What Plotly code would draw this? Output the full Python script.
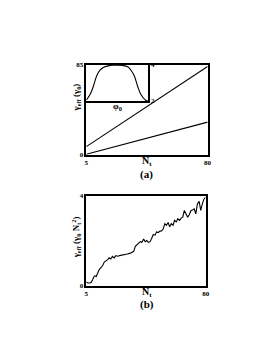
import plotly.graph_objects as go

# Panel (a): main lines
Nt_a = [5, 80]
gamma_upper = [7.7, 83.4]
gamma_lower = [0.5, 30.8]

# Panel (a) inset: gamma vs phi0 (normalized phi axis)
phi0 = [0.0, 0.063, 0.116, 0.169, 0.222, 0.275, 0.354, 0.434, 0.487, 0.593, 0.672, 0.725, 0.778, 0.831, 0.884, 0.963, 1.0]
gamma_inset = [2.04, 2.37, 2.83, 3.39, 3.70, 3.85, 3.94, 3.98, 3.98, 3.96, 3.89, 3.70, 3.39, 2.83, 2.37, 2.04, 2.0]

# Panel (b)
Nt_b = [5.0, 6.0, 7.1, 8.1, 9.1, 10.1, 11.2, 12.2, 13.2, 14.2, 15.3, 16.3, 17.3, 18.4, 19.4, 20.4,
        21.4, 22.5, 23.5, 24.5, 26.6, 28.6, 30.7, 32.7, 34.8, 35.8, 36.8, 37.9, 38.9, 39.9, 41.0,
        42.0, 43.0, 44.0, 45.1, 46.1, 47.1, 48.2, 49.2, 50.2, 51.2, 52.3, 53.3, 54.3, 55.3, 56.4,
        57.4, 58.4, 59.5, 60.5, 61.5, 62.5, 63.6, 64.6, 65.6, 66.6, 67.7, 68.7, 69.7, 70.8, 71.8,
        72.8, 73.8, 74.8, 75.9, 76.9, 77.9, 78.9, 80.0]
gamma_b = [0.17, 0.12, 0.12, 0.15, 0.29, 0.44, 0.41, 0.58, 0.73, 0.80, 0.90, 1.05, 1.09, 1.16, 1.24, 1.19,
           1.31, 1.24, 1.34, 1.31, 1.35, 1.37, 1.41, 1.45, 1.53, 1.75, 1.82, 1.85, 1.96, 1.93, 2.08,
           1.96, 2.01, 1.93, 1.96, 2.11, 2.28, 2.25, 2.40, 2.36, 2.43, 2.44, 2.52, 2.76, 2.69, 2.81,
           2.62, 2.76, 2.69, 2.91, 2.84, 2.98, 2.91, 3.01, 3.05, 3.35, 3.20, 3.05, 3.16, 3.35, 3.37,
           3.42, 3.20, 3.64, 3.75, 3.35, 3.64, 3.85, 3.93]

FONT = "Liberation Serif"
W, H = 277, 358

def px(x):
    return x / W

def py(y):
    return 1 - y / H

fig = go.Figure()
line = dict(color="black", width=1.1)
fig.add_trace(go.Scatter(x=Nt_a, y=gamma_upper, mode="lines", line=line, xaxis="x", yaxis="y", showlegend=False))
fig.add_trace(go.Scatter(x=Nt_a, y=gamma_lower, mode="lines", line=line, xaxis="x", yaxis="y", showlegend=False))
fig.add_trace(go.Scatter(x=phi0, y=gamma_inset, mode="lines", line=dict(color="black", width=1.1, shape="spline"),
                         xaxis="x3", yaxis="y3", showlegend=False))
fig.add_trace(go.Scatter(x=Nt_b, y=gamma_b, mode="lines", line=line, xaxis="x2", yaxis="y2", showlegend=False))

axis_common = dict(showline=True, linecolor="black", linewidth=1.5, mirror=True, showgrid=False,
                   zeroline=False, ticks="", tickfont=dict(family=FONT, size=7, color="black"))

fig.update_layout(
    width=W, height=H, margin=dict(l=0, r=0, t=0, b=0),
    paper_bgcolor="white", plot_bgcolor="white",
    font=dict(family=FONT, color="black"),
    xaxis=dict(domain=[px(78), px(202)], range=[5, 80], tickvals=[5, 80], ticktext=["<b>5</b>", "<b>80</b>"],
               anchor="y", **axis_common),
    yaxis=dict(domain=[py(146), py(54)], range=[0, 85], tickvals=[0, 85], ticktext=["<b>0</b>", "<b>85</b>"],
               anchor="x", **axis_common),
    xaxis2=dict(domain=[px(78), px(200)], range=[5, 80], tickvals=[5, 80], ticktext=["<b>5</b>", "<b>80</b>"],
                anchor="y2", **axis_common),
    yaxis2=dict(domain=[py(280), py(188)], range=[0, 4], tickvals=[0, 4], ticktext=["<b>0</b>", "<b>4</b>"],
                anchor="x2", **axis_common),
    xaxis3=dict(domain=[px(78), px(141)], range=[0, 1], showticklabels=False, anchor="y3",
                **{k: v for k, v in axis_common.items() if k != "tickfont"}),
    yaxis3=dict(domain=[py(91), py(54)], range=[2, 4], tickvals=[2, 4], ticktext=["<b>2</b>", "<b>4</b>"],
                side="right", anchor="x3", **axis_common),
)

ann = [
    dict(text="<b>N<sub>t</sub></b>", x=px(140), y=py(153), size=10),
    dict(text="<b>(a)</b>", x=px(140), y=py(166), size=11),
    dict(text="<b>φ<sub>0</sub></b>", x=px(110), y=py(97), size=9),
    dict(text="<b>N<sub>t</sub></b>", x=px(140), y=py(287), size=10),
    dict(text="<b>(b)</b>", x=px(140), y=py(299), size=11),
]
for a in ann:
    fig.add_annotation(text=a["text"], x=a["x"], y=a["y"], xref="paper", yref="paper", showarrow=False,
                       font=dict(family=FONT, size=a["size"], color="black"), xanchor="center", yanchor="middle")

fig.add_annotation(text="<b>γ<sub>eff</sub> (γ<sub>0</sub>)</b>", x=px(68), y=py(88), xref="paper", yref="paper",
                   showarrow=False, textangle=-90, font=dict(family=FONT, size=9, color="black"),
                   xanchor="center", yanchor="middle")
fig.add_annotation(text="<b>γ<sub>eff</sub> (γ<sub>0</sub> N<sub>t</sub><sup>2</sup>)</b>", x=px(68), y=py(231),
                   xref="paper", yref="paper", showarrow=False, textangle=-90,
                   font=dict(family=FONT, size=9, color="black"), xanchor="center", yanchor="middle")

fig.write_html("out.html")
